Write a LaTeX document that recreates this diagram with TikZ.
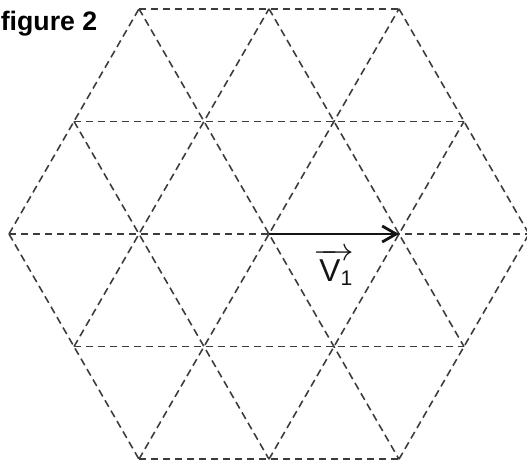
\documentclass[tikz,border=0pt]{standalone}
\usepackage{fontspec}
\setmainfont{Liberation Sans}
\usepackage{amsmath}
\usepackage{tikz}
\usetikzlibrary{arrows.meta, positioning}
\definecolor{mydark}{RGB}{20,20,20}
\definecolor{mygrid}{RGB}{60,60,60}
\tikzset{
  latline/.style={draw=mygrid, line width=0.45pt, dash pattern=on 0.075cm off 0.045cm},
  vecarrow/.style={-{Straight Barb[length=0.14cm, width=0.16cm]}, line width=0.8pt, color=mydark},
  veclabel/.style={inner sep=0pt, font=\fontsize{9}{10}\selectfont},
  figlabel/.style={inner sep=0pt, anchor=base east, font=\fontsize{7.6}{9}\selectfont\bfseries}
}
\begin{document}
\begin{tikzpicture}
  \useasboundingbox (0,0) rectangle (5.27,4.64);

  % Title
  \node[figlabel] (title) at (0.98, 4.34) {figure 2};

  % Lattice points, top row
  \coordinate (t1) at (1.39, 4.552);
  \coordinate (t2) at (2.69, 4.552);
  \coordinate (t3) at (3.99, 4.552);
  % upper row
  \coordinate (u1) at (0.74, 3.426);
  \coordinate (u2) at (2.04, 3.426);
  \coordinate (u3) at (3.34, 3.426);
  \coordinate (u4) at (4.64, 3.426);
  % middle row
  \coordinate (m1) at (0.09, 2.30);
  \coordinate (m2) at (1.39, 2.30);
  \coordinate (m3) at (2.69, 2.30);
  \coordinate (m4) at (3.99, 2.30);
  \coordinate (m5) at (5.29, 2.30);
  % lower row
  \coordinate (d1) at (0.74, 1.174);
  \coordinate (d2) at (2.04, 1.174);
  \coordinate (d3) at (3.34, 1.174);
  \coordinate (d4) at (4.64, 1.174);
  % bottom row
  \coordinate (b1) at (1.39, 0.048);
  \coordinate (b2) at (2.69, 0.048);
  \coordinate (b3) at (3.99, 0.048);

  % Horizontal lines
  \draw[latline] (t1) -- (t3);
  \draw[latline] (u1) -- (u4);
  \draw[latline] (m1) -- (m5);
  \draw[latline] (d1) -- (d4);
  \draw[latline] (b1) -- (b3);

  % Rising lines
  \draw[latline] (m1) -- (t1);
  \draw[latline] (d1) -- (t2);
  \draw[latline] (b1) -- (t3);
  \draw[latline] (b2) -- (u4);
  \draw[latline] (b3) -- (m5);

  % Falling lines
  \draw[latline] (m1) -- (b1);
  \draw[latline] (u1) -- (b2);
  \draw[latline] (t1) -- (b3);
  \draw[latline] (t2) -- (d4);
  \draw[latline] (t3) -- (m5);

  % Vector V1
  \draw[vecarrow] (m3) -- (m4) node[veclabel, midway, below=0.13cm] (v1) {$\overrightarrow{\mkern3mu\mathrm{V}_{\mathrm{1}}}$};
\end{tikzpicture}
\end{document}
